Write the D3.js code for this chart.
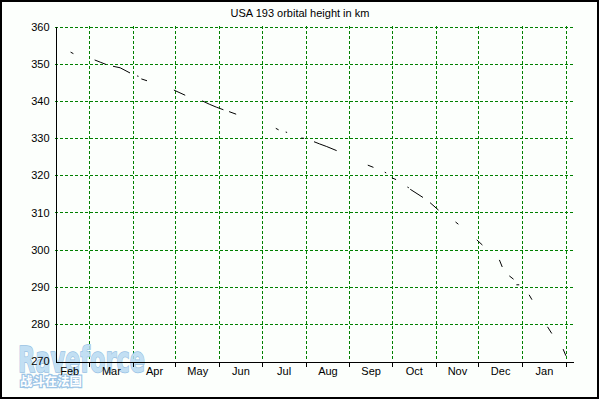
<!DOCTYPE html>
<html><head><meta charset="utf-8">
<script src="https://cdn.jsdelivr.net/npm/d3@7"></script>
<style>body{margin:0;background:#fff}svg{display:block}</style>
</head><body><svg id="c" width="600" height="400"></svg>
<script>
const chartTitle = "USA 193 orbital height in km";
// observation dates and orbital heights (km); null marks a gap in the record
const dates = [
  "2007-02-16","2007-02-18", null,
  "2007-03-05","2007-03-09","2007-03-13", null,
  "2007-03-18","2007-03-23","2007-03-30", null,
  "2007-04-04","2007-04-05", null,
  "2007-04-07","2007-04-11", null,
  "2007-04-30","2007-05-08", null,
  "2007-05-20","2007-05-25","2007-05-30","2007-06-04", null,
  "2007-06-08","2007-06-13", null,
  "2007-07-11","2007-07-13", null,
  "2007-07-18","2007-07-19", null,
  "2007-07-29","2007-07-31", null,
  "2007-08-07","2007-08-11","2007-08-16","2007-08-23", null,
  "2007-09-14","2007-09-18", null,
  "2007-09-26","2007-09-27", null,
  "2007-10-01","2007-10-04", null,
  "2007-10-12","2007-10-13", null,
  "2007-10-14","2007-10-23", null,
  "2007-10-28","2007-11-03", null,
  "2007-11-15","2007-11-17", null,
  "2007-11-30","2007-12-04", null,
  "2007-12-16","2007-12-18", null,
  "2007-12-23","2007-12-26", null,
  "2007-12-28","2007-12-30", null,
  "2008-01-06","2008-01-08", null,
  "2008-01-19","2008-01-22", null,
  "2008-01-30","2008-02-01"
];
const heights = [
  353.1, 352.7, null,
  351.0, 350.4, 349.8, null,
  349.3, 348.9, 347.5, null,
  346.7, 346.6, null,
  345.9, 345.4, null,
  342.9, 341.5, null,
  340.0, 339.1, 338.3, 337.6, null,
  337.1, 336.4, null,
  332.6, 332.2, null,
  331.6, 331.5, null,
  330.0, 329.9, null,
  329.0, 328.4, 327.7, 326.6, null,
  322.7, 322.1, null,
  320.8, 320.6, null,
  319.3, 318.8, null,
  316.8, 316.6, null,
  316.2, 314.0, null,
  312.6, 310.6, null,
  307.4, 306.8, null,
  302.6, 301.2, null,
  297.2, 295.3, null,
  292.9, 292.0, null,
  290.5, 290.5, null,
  287.8, 286.5, null,
  279.2, 277.4, null,
  273.2, 271.4
];
const monthStarts = ["2007-02-01","2007-03-01","2007-04-01","2007-05-01","2007-06-01","2007-07-01",
  "2007-08-01","2007-09-01","2007-10-01","2007-11-01","2007-12-01","2008-01-01","2008-02-01"];
const monthLabels = ["Feb","Mar","Apr","May","Jun","Jul","Aug","Sep","Oct","Nov","Dec","Jan"];
const yTicks = [270,280,290,300,310,320,330,340,350,360];
const watermark = "Raveforce";
const watermarkSub = "战斗在法国";

const FONT = "'Liberation Sans', Arial, sans-serif";
const svg = d3.select("#c");
const parse = d3.utcParse("%Y-%m-%d");
const x = d3.scaleUtc().domain([parse("2007-02-05"), parse("2008-02-06")]).range([55, 573]);
const y = d3.scaleLinear().domain([270, 360]).range([361, 26.5]);

svg.append("rect").attr("x",1).attr("y",1).attr("width",597).attr("height",397)
  .attr("fill","#fcfffc").attr("stroke","#000").attr("stroke-width",2);

svg.append("text").attr("x",300).attr("y",17).attr("text-anchor","middle")
  .attr("font-family",FONT).attr("font-size",11).attr("fill","#000").text(chartTitle);

const monthDates = monthStarts.map(parse);
const inDomain = monthDates.filter(d => d >= x.domain()[0] && d <= x.domain()[1]);

// grid
const grid = svg.append("g").attr("stroke","#008000").attr("stroke-dasharray","3,2")
  .attr("shape-rendering","crispEdges").attr("fill","none");
grid.selectAll("line.h").data(yTicks.filter(v => v > 270)).join("line")
  .attr("x1",55).attr("x2",573)
  .attr("y1",d => Math.round(y(d))+0.5).attr("y2",d => Math.round(y(d))+0.5);
grid.selectAll("line.v").data(inDomain).join("line")
  .attr("x1",d => Math.round(x(d))+0.5).attr("x2",d => Math.round(x(d))+0.5)
  .attr("y1",26).attr("y2",361);

// watermark (underneath the axes)
const wm = svg.append("g").attr("opacity",0.85);
wm.append("text").attr("x",18).attr("y",372).attr("font-family","'DejaVu Sans', sans-serif")
  .attr("font-weight","bold").attr("font-size",36)
  .attr("textLength",127).attr("lengthAdjust","spacingAndGlyphs")
  .attr("fill","#b8daf2").attr("stroke","#86b6df").attr("stroke-width",1.5)
  .attr("paint-order","stroke").text(watermark);
wm.append("text").attr("x",20).attr("y",386).attr("font-family","'Noto Sans CJK SC', sans-serif")
  .attr("font-weight","bold").attr("font-size",12.5)
  .attr("textLength",62).attr("lengthAdjust","spacingAndGlyphs")
  .attr("fill","#ffffff").attr("stroke","#8dbbe3").attr("stroke-width",2.5)
  .attr("paint-order","stroke").text(watermarkSub);

// y axis
const yAxis = svg.append("g").attr("transform","translate(55.5,0)")
  .call(d3.axisLeft(y).tickValues(yTicks).tickSize(0).tickPadding(6).tickSizeOuter(0));
yAxis.select(".domain").attr("stroke","#000").attr("shape-rendering","crispEdges");
yAxis.selectAll("text").attr("font-family",FONT).attr("font-size",11).attr("fill","#000").attr("dy","0.34em");

// x axis ticks at month starts
const xAxis = svg.append("g").attr("transform","translate(0,361.5)")
  .call(d3.axisBottom(x).tickValues(inDomain).tickSize(5).tickSizeOuter(0).tickFormat(""));
xAxis.selectAll("path,line").attr("stroke","#000").attr("shape-rendering","crispEdges");

// month labels centered in each month
const mids = monthLabels.map((m,i) => new Date((monthDates[i].getTime() + monthDates[i+1].getTime())/2));
const xLab = svg.append("g").attr("transform","translate(0,361)")
  .call(d3.axisBottom(x).tickValues(mids).tickSize(0).tickPadding(6)
    .tickFormat((d,i) => monthLabels[i]));
xLab.select(".domain").remove();
xLab.selectAll("text").attr("font-family",FONT).attr("font-size",11).attr("fill","#000");

// data
const pts = dates.map((d,i) => ({d: d ? parse(d) : null, v: heights[i]}));
const line = d3.line().defined(p => p.v != null && p.d != null).x(p => x(p.d)).y(p => y(p.v));
svg.append("path").datum(pts).attr("d",line).attr("fill","none")
  .attr("stroke","#000").attr("stroke-width",1);
</script></body></html>
